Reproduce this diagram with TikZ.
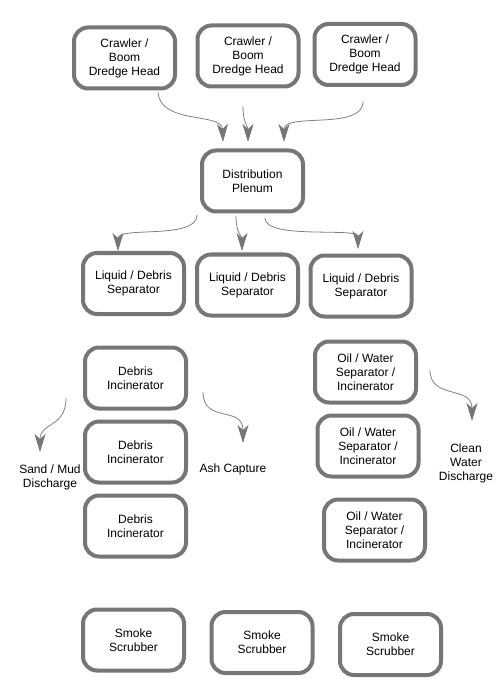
\documentclass[tikz,border=0pt]{standalone}
\usepackage{fontspec}
\setmainfont{Liberation Sans}
\usepackage{xcolor}
\usepackage{tikz}
\usetikzlibrary{arrows.meta, positioning, calc}
\definecolor{boxgray}{RGB}{118,118,118}
\definecolor{flowgray}{RGB}{128,128,128}
\tikzset{
  unitbox/.style={
    draw=boxgray, rounded corners=14pt, line width=4pt, align=center,
    font=\fontsize{12}{14}\selectfont, fill=white,
    minimum width=101pt, minimum height=61pt, inner sep=2pt
  },
  flowarrow/.style={
    -{Stealth[length=18pt, width=11pt, inset=5pt, color=boxgray]},
    line width=0.8pt, color=flowgray
  },
  flowlabel/.style={
    align=center, font=\fontsize{12}{14}\selectfont, inner sep=1pt
  },
}

\begin{document}
\begin{tikzpicture}[x=1pt, y=-1pt]
  \useasboundingbox (0,0) rectangle (500,700);

  % ── Dredge heads at top ────────────────────────────────────────
  \node[unitbox] (crawlA) at (124.5, 58) {Crawler /\\Boom\\Dredge Head};
  \node[unitbox] (crawlB) at (248, 56) {Crawler /\\Boom\\Dredge Head};
  \node[unitbox] (crawlC) at (365, 54.5) {Crawler /\\Boom\\Dredge Head};

  % ── Plenum ─────────────────────────────────────────────────────
  \node[unitbox] (plenum) at (252.5, 181) {Distribution\\Plenum};

  \draw[flowarrow] ([shift={(33.5,34)}]crawlA.center)
    .. controls +(2,33) and +(-1,-30) .. ([shift={(-29.5,-39)}]plenum.center);
  \draw[flowarrow] ([shift={(-5,50)}]crawlB.center)
    .. controls +(0,18) and +(0,-16) .. ([shift={(-4.5,-39)}]plenum.center);
  \draw[flowarrow] ([shift={(-2,46.5)}]crawlC.center)
    .. controls +(1,30) and +(0,-30) .. ([shift={(31.5,-39)}]plenum.center);

  % ── Separators ─────────────────────────────────────────────────
  \node[unitbox] (sepA) at (133.5, 283.5) {Liquid / Debris\\Separator};
  \node[unitbox] (sepB) at (247.5, 285) {Liquid / Debris\\Separator};
  \node[unitbox] (sepC) at (361, 286) {Liquid / Debris\\Separator};

  \draw[flowarrow] ([shift={(-55.5,34)}]plenum.center)
    .. controls +(0,25) and +(0,-25) .. ([shift={(-15.5,-32.5)}]sepA.center);
  \draw[flowarrow] ([shift={(-16.5,35)}]plenum.center)
    .. controls +(0,18) and +(0,-15) .. ([shift={(-5.5,-34)}]sepB.center);
  \draw[flowarrow] ([shift={(12.5,37)}]plenum.center)
    .. controls +(0,22) and +(0,-22) .. ([shift={(-3,-37)}]sepC.center);

  % ── Debris line (left) ─────────────────────────────────────────
  \node[unitbox] (incA) at (135.5, 378) {Debris\\Incinerator};
  \node[unitbox] (incB) at (135.5, 452) {Debris\\Incinerator};
  \node[unitbox] (incC) at (135.5, 526) {Debris\\Incinerator};

  \node[flowlabel] (sandlbl) at (50, 477) {Sand / Mud\\Discharge};
  \node[flowlabel] (ashlbl) at (233, 469) {Ash Capture};

  \draw[flowarrow] ([shift={(-69.5,20)}]incA.center)
    .. controls +(0,30) and +(0,-30) .. ([shift={(-10,-25)}]sandlbl.center);
  \draw[flowarrow] ([shift={(67.5,14)}]incA.center)
    .. controls +(0,32) and +(0,-38) .. ([shift={(10,-26)}]ashlbl.center);

  % ── Oil / water line (right) ───────────────────────────────────
  \node[unitbox] (oilA) at (365.5, 372) {Oil / Water\\Separator /\\Incinerator};
  \node[unitbox] (oilB) at (368, 446) {Oil / Water\\Separator /\\Incinerator};
  \node[unitbox] (oilC) at (374.5, 530) {Oil / Water\\Separator /\\Incinerator};

  \node[flowlabel] (waterlbl) at (466, 463) {Clean\\Water\\Discharge};

  \draw[flowarrow] ([shift={(64.5,-2)}]oilA.center)
    .. controls +(0,30) and +(0,-36) .. ([shift={(6,-42)}]waterlbl.center);

  % ── Scrubbers at bottom ────────────────────────────────────────
  \node[unitbox] (scrubA) at (133.5, 640) {Smoke\\Scrubber};
  \node[unitbox] (scrubB) at (262, 642.5) {Smoke\\Scrubber};
  \node[unitbox] (scrubC) at (390.5, 644.5) {Smoke\\Scrubber};
\end{tikzpicture}
\end{document}
